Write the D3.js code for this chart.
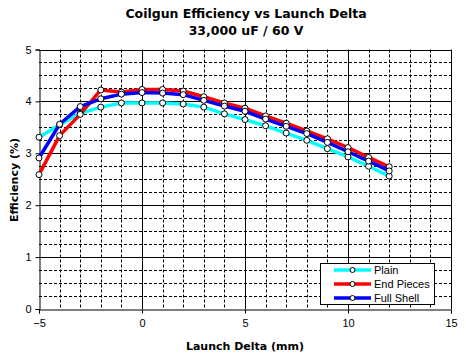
<!DOCTYPE html>
<html><head><meta charset="utf-8">
<script src="https://cdn.jsdelivr.net/npm/d3@7"></script>
<style>body{margin:0;background:#fff}svg{display:block}</style>
</head><body>
<svg id="c" width="466" height="357"></svg>
<script>
const xValues = [-5,-4,-3,-2,-1,0,1,2,3,4,5,6,7,8,9,10,11,12];
const plain = [3.31,3.55,3.77,3.89,3.97,3.97,3.97,3.95,3.89,3.76,3.65,3.53,3.39,3.25,3.09,2.93,2.75,2.56];
const endPieces = [2.59,3.34,3.75,4.22,4.18,4.23,4.23,4.20,4.09,3.97,3.87,3.72,3.58,3.43,3.28,3.11,2.92,2.74];
const fullShell = [2.91,3.56,3.90,4.05,4.14,4.17,4.16,4.13,4.02,3.91,3.81,3.66,3.52,3.38,3.21,3.03,2.85,2.66];
const seriesNames = ["Plain","End Pieces","Full Shell"];
const seriesColors = ["#00ffff","#ff0000","#0000ff"];
const xTicks = [-5,0,5,10,15];
const yTicks = [0,1,2,3,4,5];
const titleLines = ["Coilgun Efficiency vs Launch Delta","33,000 uF / 60 V"];
const xTitle = "Launch Delta (mm)";
const yTitle = "Efficiency (%)";

const svg = d3.select("#c");
const x = d3.scaleLinear().domain([-5,15]).range([39,451]);
const y = d3.scaleLinear().domain([0,5]).range([309,49.5]);

// minor grid
const g = svg.append("g");
g.selectAll("line.mx").data(d3.range(-4,15).filter(v=>v%5!==0)).join("line")
  .attr("x1",d=>Math.round(x(d))+0.5).attr("x2",d=>Math.round(x(d))+0.5).attr("y1",y(5)).attr("y2",y(0))
  .attr("stroke","#000").attr("stroke-width",1).attr("stroke-dasharray","3,2");
g.selectAll("line.my").data(d3.range(0.25,5,0.25).filter(v=>Math.abs(v-Math.round(v))>0.01)).join("line")
  .attr("y1",d=>Math.round(y(d))+0.5).attr("y2",d=>Math.round(y(d))+0.5).attr("x1",x(-5)).attr("x2",x(15))
  .attr("stroke","#000").attr("stroke-width",1).attr("stroke-dasharray","3,2");
// major grid
g.selectAll("line.Mx").data([0,5,10,15]).join("line")
  .attr("x1",d=>Math.round(x(d))+0.5).attr("x2",d=>Math.round(x(d))+0.5).attr("y1",y(5)).attr("y2",y(0))
  .attr("stroke","#000");
g.selectAll("line.My").data([1,2,3,4,5]).join("line")
  .attr("y1",d=>Math.round(y(d))+0.5).attr("y2",d=>Math.round(y(d))+0.5).attr("x1",x(-5)).attr("x2",x(15))
  .attr("stroke","#000");

// axes
const xAxis = d3.axisBottom(x).tickValues(xTicks).tickSize(4).tickPadding(6).tickFormat(d3.format("d"));
const yAxis = d3.axisLeft(y).tickValues(yTicks).tickSize(4).tickPadding(4).tickFormat(d3.format("d"));
const ax = svg.append("g").attr("transform",`translate(0,${Math.round(y(0))+0.5})`).call(xAxis);
const ay = svg.append("g").attr("transform",`translate(${Math.round(x(-5))+0.5},0)`).call(yAxis);
[ax,ay].forEach(a=>{
  a.selectAll("path,line").attr("stroke","#000");
  a.selectAll("text").attr("font-family","Liberation Sans, Arial").attr("font-size","11px").attr("fill","#000");
});

// series
const series = [plain,endPieces,fullShell];
const line = d3.line().x((d,i)=>x(xValues[i])).y(d=>y(d));
series.forEach((s,k)=>{
  svg.append("path").datum(s).attr("d",line).attr("fill","none")
    .attr("stroke",seriesColors[k]).attr("stroke-width",3.5).attr("stroke-linejoin","round");
});
series.forEach((s,k)=>{
  svg.append("g").selectAll("circle").data(s).join("circle")
    .attr("cx",(d,i)=>x(xValues[i])).attr("cy",d=>y(d)).attr("r",3)
    .attr("fill","#fff").attr("stroke","#000").attr("stroke-width",1);
});

// titles
const t = svg.append("text").attr("text-anchor","middle").attr("font-family","DejaVu Sans, Verdana")
  .attr("font-weight","bold").attr("font-size","12.5px").attr("fill","#000");
t.append("tspan").attr("x",246).attr("y",18).text(titleLines[0]);
t.append("tspan").attr("x",246).attr("y",35).text(titleLines[1]);
svg.append("text").attr("x",245).attr("y",350).attr("text-anchor","middle")
  .attr("font-family","DejaVu Sans, Verdana").attr("font-weight","bold").attr("font-size","11px").text(xTitle);
svg.append("text").attr("transform","translate(18,180) rotate(-90)").attr("text-anchor","middle")
  .attr("font-family","DejaVu Sans, Verdana").attr("font-weight","bold").attr("font-size","11px").text(yTitle);

// legend
const lg = svg.append("g");
lg.append("rect").attr("x",320.5).attr("y",263.5).attr("width",114).attr("height",41)
  .attr("fill","#fff").attr("stroke","#000");
seriesNames.forEach((n,k)=>{
  const yy = 270 + k*14;
  lg.append("line").attr("x1",334).attr("x2",371).attr("y1",yy).attr("y2",yy)
    .attr("stroke",seriesColors[k]).attr("stroke-width",3.5);
  lg.append("circle").attr("cx",352.5).attr("cy",yy).attr("r",2.5).attr("fill","#fff").attr("stroke","#000");
  lg.append("text").attr("x",374).attr("y",yy+4).attr("font-family","Liberation Sans, Arial")
    .attr("font-size","11px").text(n);
});
</script>
</body></html>
